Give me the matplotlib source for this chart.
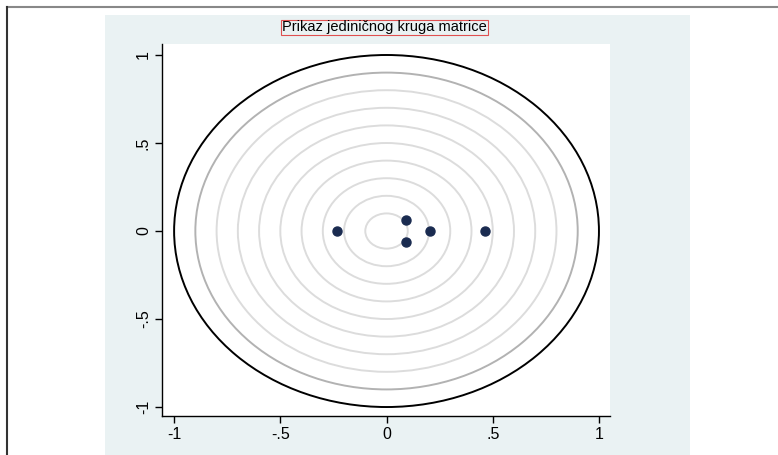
import matplotlib.pyplot as plt
from matplotlib.patches import Rectangle, Circle
from matplotlib.lines import Line2D

plt.rcParams['font.family'] = ['Liberation Sans', 'DejaVu Sans']

# eigenvalues (real, imaginary)
eig_re = [-0.235, 0.0895, 0.0895, 0.2025, 0.4615]
eig_im = [0.0, 0.0625, -0.0625, 0.0, 0.0]

grid_radii = [0.1, 0.2, 0.3, 0.4, 0.5, 0.6, 0.7, 0.8]
ticks = [-1, -0.5, 0, 0.5, 1]
tick_labels = ['-1', '-.5', '0', '.5', '1']
title = 'Prikaz jediničnog kruga matrice'

W, H = 778, 455
fig = plt.figure(figsize=(W/100, H/100), dpi=100)
fig.patch.set_facecolor('white')

# graph region
fig.add_artist(Rectangle((105/W, 0), (690-105)/W, 1 - 15/H, transform=fig.transFigure,
                         facecolor='#eaf2f3', edgecolor='none', zorder=0))
fig.add_artist(Line2D([7/W, 1], [1 - 7/H, 1 - 7/H], transform=fig.transFigure, color='#888888', lw=1.5))
fig.add_artist(Line2D([7/W, 7/W], [0, 1 - 7/H], transform=fig.transFigure, color='#333333', lw=1.5))

ax = fig.add_axes([162/W, 1 - 416/H, (610-162)/W, (416-44)/H])
ax.set_facecolor('white')

for r in grid_radii:
    ax.add_patch(Circle((0, 0), r, fill=False, edgecolor='#dcdcdc', lw=1.4, zorder=1))
ax.add_patch(Circle((0, 0), 0.9, fill=False, edgecolor='#b2b2b2', lw=1.4, zorder=1))
ax.add_patch(Circle((0, 0), 1.0, fill=False, edgecolor='black', lw=1.4, zorder=2))

ax.plot(eig_re, eig_im, 'o', color='#1a2b50', markersize=6.5, zorder=3)

ax.set_xlim(-1.057, 1.052)
ax.set_ylim(-1.051, 1.0625)
ax.set_xticks(ticks)
ax.set_xticklabels(tick_labels)
ax.set_yticks(ticks)
ax.set_yticklabels(tick_labels, rotation=90, va='center')
ax.tick_params(direction='out', length=5, width=1, color='black', labelsize=11.5, pad=3)
for s in ['top', 'right']:
    ax.spines[s].set_visible(False)
for s in ['left', 'bottom']:
    ax.spines[s].set_linewidth(1)

fig.text(384.5/W, 1 - 27.5/H, title, ha='center', va='center', fontsize=10.5,
         bbox=dict(facecolor='none', edgecolor='#e05050', lw=0.8, boxstyle='square,pad=0.05'))

fig.savefig('out.png', dpi=100)
